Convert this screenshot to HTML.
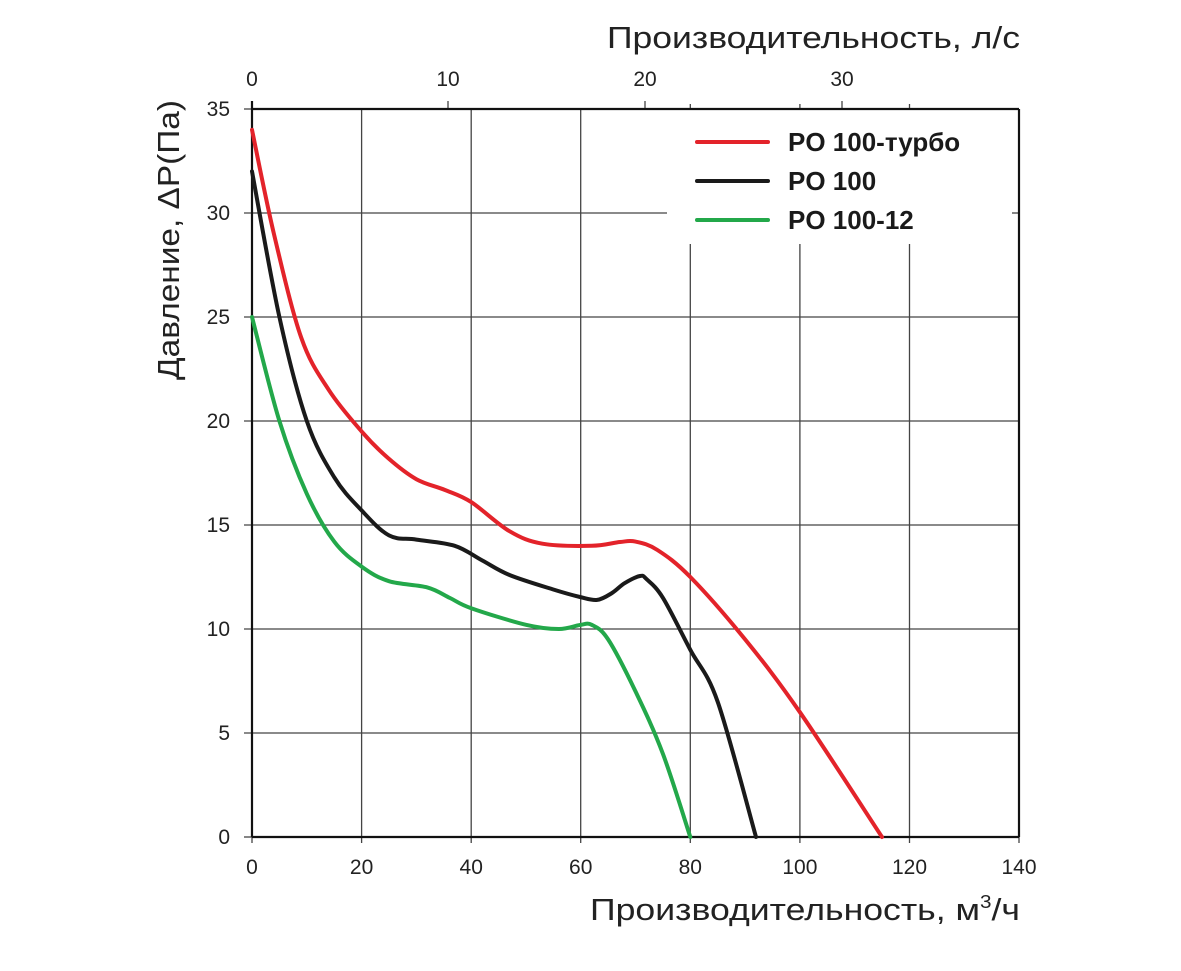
<!DOCTYPE html>
<html><head><meta charset="utf-8"><style>body{margin:0;background:#fff}</style></head><body>
<svg width="1181" height="966" xmlns="http://www.w3.org/2000/svg" font-family="Liberation Sans, DejaVu Sans, sans-serif">
<rect width="1181" height="966" fill="#fff"/>
<g stroke="#444" stroke-width="1.3">
<line x1="361.6" y1="109" x2="361.6" y2="837"/>
<line x1="471.2" y1="109" x2="471.2" y2="837"/>
<line x1="580.7" y1="109" x2="580.7" y2="837"/>
<line x1="690.3" y1="244" x2="690.3" y2="837"/>
<line x1="799.9" y1="244" x2="799.9" y2="837"/>
<line x1="909.5" y1="244" x2="909.5" y2="837"/>
<line x1="244" y1="213" x2="667" y2="213"/>
<line x1="244" y1="317" x2="1019" y2="317"/>
<line x1="244" y1="421" x2="1019" y2="421"/>
<line x1="244" y1="525" x2="1019" y2="525"/>
<line x1="244" y1="629" x2="1019" y2="629"/>
<line x1="244" y1="733" x2="1019" y2="733"/>
<line x1="244" y1="109" x2="252" y2="109"/>
<line x1="244" y1="837" x2="252" y2="837"/>
<line x1="1012" y1="213" x2="1019" y2="213"/>
<line x1="690.3" y1="109" x2="690.3" y2="104"/><line x1="799.9" y1="109" x2="799.9" y2="104"/><line x1="909.5" y1="109" x2="909.5" y2="104"/>
<line x1="448" y1="109" x2="448" y2="101"/><line x1="645" y1="109" x2="645" y2="101"/><line x1="842" y1="109" x2="842" y2="101"/>
<line x1="252" y1="837" x2="252" y2="843"/><line x1="361.6" y1="837" x2="361.6" y2="843"/><line x1="471.2" y1="837" x2="471.2" y2="843"/><line x1="580.7" y1="837" x2="580.7" y2="843"/><line x1="690.3" y1="837" x2="690.3" y2="843"/><line x1="799.9" y1="837" x2="799.9" y2="843"/><line x1="909.5" y1="837" x2="909.5" y2="843"/><line x1="1019" y1="837" x2="1019" y2="843"/>
</g>
<g stroke="#111" stroke-width="2.2" fill="none">
<line x1="252" y1="109" x2="1019" y2="109"/>
<line x1="1019" y1="109" x2="1019" y2="837"/>
<line x1="252" y1="837" x2="1019" y2="837"/>
<line x1="252" y1="101" x2="252" y2="837"/>
</g>
<g fill="none" stroke-width="4" stroke-linejoin="round" stroke-linecap="round">
<polyline class="c" stroke="#e3232a" points="252,129.8 273.9,233.8 301.3,337.8 328.7,389.8 361.6,431.4 388,458 416.4,479.2 445,490 471.2,502.1 509.5,531.2 542.4,543.7 591.7,545.8 620,542 635.5,541.6 657.4,550 690.3,577 745.1,639.4 799.9,712.2 882,837"/>
<polyline class="c" stroke="#1a1a1a" points="252,171.4 279.4,317 306.8,421 334.2,477.2 361.6,510.4 389,535.4 416.4,539.6 454.7,545.8 482.1,560.4 509.5,575 553.3,589.5 580,597 597.2,599.9 612,593 624.6,583.2 640,576 646.5,579.1 662.9,597.8 690.3,649.8 717.7,701.8 756,837"/>
<polyline class="c" stroke="#23a84a" points="252,317 279.4,421 306.8,493.8 334.2,541.6 361.6,566.6 389,581.2 427.3,587.4 450,598 471.2,608.2 526,624.8 558.8,629 580,625 591.7,624.8 608.1,639.4 635.5,691.4 662.9,753.8 690.3,837"/>
<line x1="697" y1="142" x2="768" y2="142" stroke="#e3232a"/>
<line x1="697" y1="181" x2="768" y2="181" stroke="#1a1a1a"/>
<line x1="697" y1="220" x2="768" y2="220" stroke="#23a84a"/>
</g>
<g font-weight="bold" font-size="26" fill="#1a1a1a">
<text x="788" y="151">PO 100-турбо</text>
<text x="788" y="190">PO 100</text>
<text x="788" y="229">PO 100-12</text>
</g>
<g font-size="21" fill="#222" text-anchor="end">
<text x="230" y="116">35</text><text x="230" y="220">30</text><text x="230" y="324">25</text><text x="230" y="428">20</text><text x="230" y="532">15</text><text x="230" y="636">10</text><text x="230" y="740">5</text><text x="230" y="844">0</text>
</g>
<g font-size="21" fill="#222" text-anchor="middle">
<text x="252" y="874">0</text><text x="361.6" y="874">20</text><text x="471.2" y="874">40</text><text x="580.7" y="874">60</text><text x="690.3" y="874">80</text><text x="799.9" y="874">100</text><text x="909.5" y="874">120</text><text x="1019" y="874">140</text>
<text x="252" y="86">0</text><text x="448" y="86">10</text><text x="645" y="86">20</text><text x="842" y="86">30</text>
</g>
<g font-size="31" fill="#222">
<text x="590" y="920" textLength="430" lengthAdjust="spacingAndGlyphs">Производительность, м<tspan font-size="18" dy="-12">3</tspan><tspan dy="12">/ч</tspan></text>
<text x="607" y="48" textLength="413" lengthAdjust="spacingAndGlyphs">Производительность, л/с</text>
<text transform="translate(179,380) rotate(-90)" textLength="280" lengthAdjust="spacingAndGlyphs">Давление, ΔP(Па)</text>
</g>
</svg>
<script>
document.querySelectorAll('polyline.c').forEach(function(pl){
  var p=pl.getAttribute('points').trim().split(/\s+/).map(function(s){return s.split(',').map(Number);});
  var d='M'+p[0][0]+','+p[0][1];
  for(var i=0;i<p.length-1;i++){
    var p0=p[i-1]||p[i],p1=p[i],p2=p[i+1],p3=p[i+2]||p2;
    var c1=[p1[0]+(p2[0]-p0[0])/6,p1[1]+(p2[1]-p0[1])/6];
    var c2=[p2[0]-(p3[0]-p1[0])/6,p2[1]-(p3[1]-p1[1])/6];
    d+=' C'+c1.join(',')+' '+c2.join(',')+' '+p2.join(',');
  }
  var path=document.createElementNS('http://www.w3.org/2000/svg','path');
  path.setAttribute('d',d);path.setAttribute('stroke',pl.getAttribute('stroke'));
  pl.parentNode.replaceChild(path,pl);
});
</script>
</body></html>
